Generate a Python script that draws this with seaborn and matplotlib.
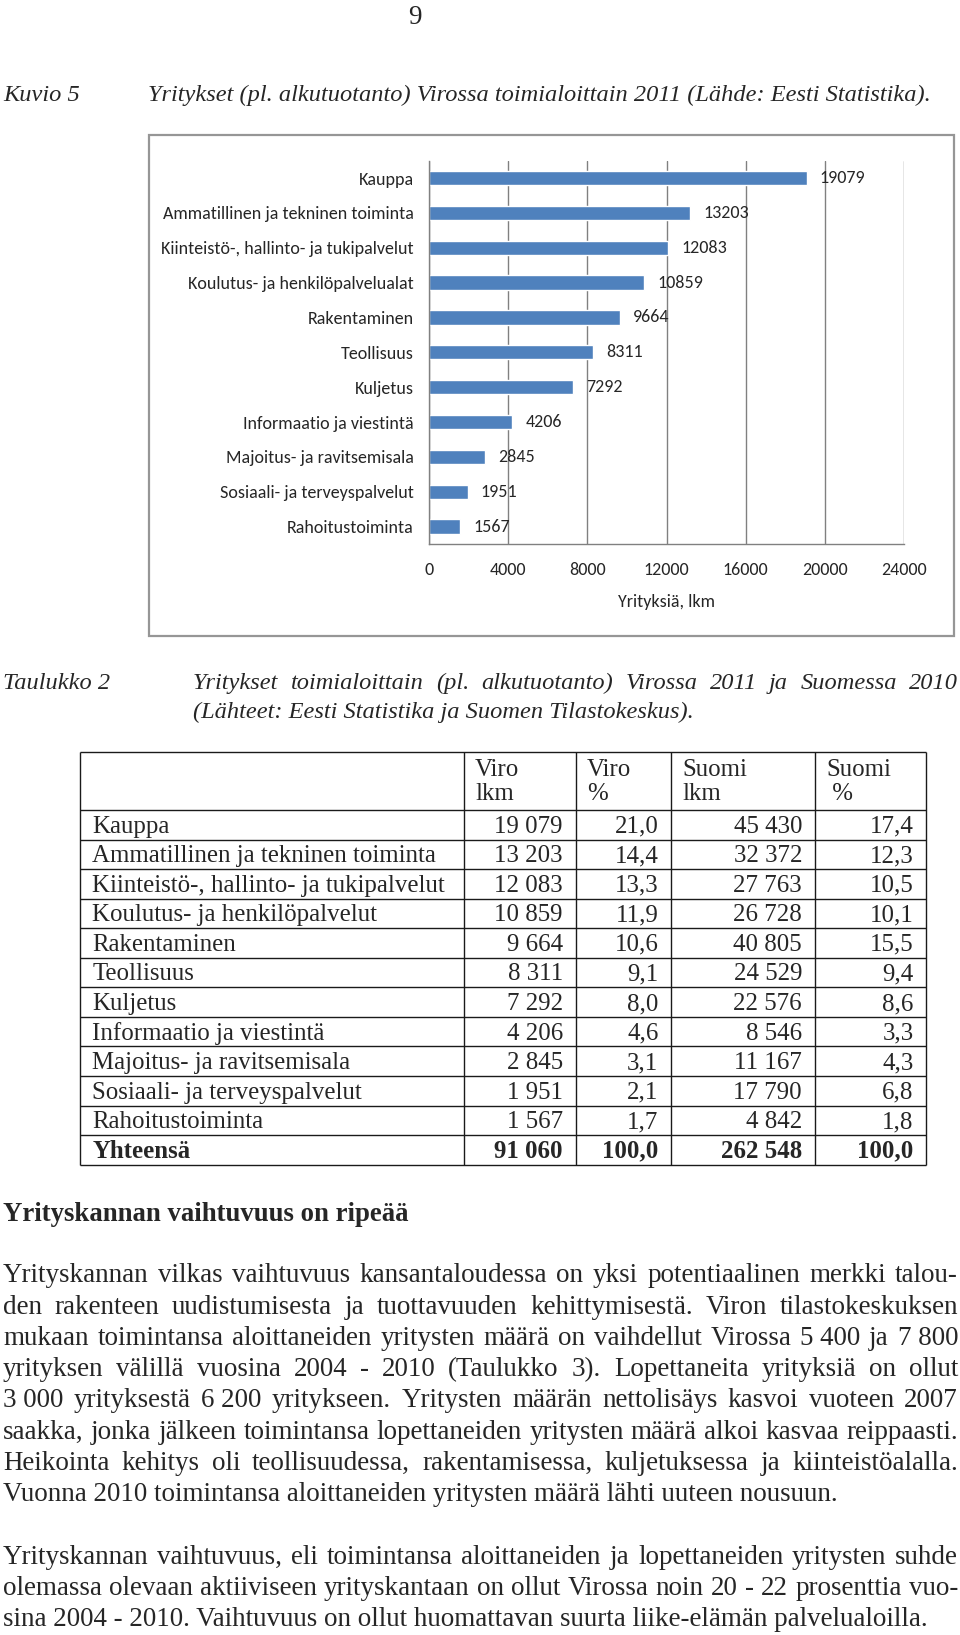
import numpy as np
import pandas as pd
import matplotlib
matplotlib.use("Agg")
import matplotlib.pyplot as plt
from matplotlib.patches import Rectangle
from matplotlib.ticker import FixedLocator
import seaborn as sns

# ---------------- data ----------------
categories = ["Kauppa", "Ammatillinen ja tekninen toiminta",
              "Kiinteistö-, hallinto- ja tukipalvelut",
              "Koulutus- ja henkilöpalvelualat", "Rakentaminen", "Teollisuus",
              "Kuljetus", "Informaatio ja viestintä", "Majoitus- ja ravitsemisala",
              "Sosiaali- ja terveyspalvelut", "Rahoitustoiminta"]
chart_values = [19079, 13203, 12083, 10859, 9664, 8311, 7292, 4206, 2845, 1951, 1567]
x_ticks = [0, 4000, 8000, 12000, 16000, 20000, 24000]

table_rows = ["Kauppa", "Ammatillinen ja tekninen toiminta",
              "Kiinteistö-, hallinto- ja tukipalvelut",
              "Koulutus- ja henkilöpalvelut", "Rakentaminen", "Teollisuus",
              "Kuljetus", "Informaatio ja viestintä", "Majoitus- ja ravitsemisala",
              "Sosiaali- ja terveyspalvelut", "Rahoitustoiminta"]
viro_lkm = [19079, 13203, 12083, 10859, 9664, 8311, 7292, 4206, 2845, 1951, 1567]
viro_pct = [21.0, 14.4, 13.3, 11.9, 10.6, 9.1, 8.0, 4.6, 3.1, 2.1, 1.7]
suomi_lkm = [45430, 32372, 27763, 26728, 40805, 24529, 22576, 8546, 11167, 17790, 4842]
suomi_pct = [17.4, 12.3, 10.5, 10.1, 15.5, 9.4, 8.6, 3.3, 4.3, 6.8, 1.8]
total_label = "Yhteensä"
total_row = [91060, 100.0, 262548, 100.0]
header_top = ["Viro", "Viro", "Suomi", "Suomi"]
header_bottom = ["lkm", "%", "lkm", " %"]

page_number = "9"
fig_caption = ("Kuvio 5", "Yritykset (pl. alkutuotanto) Virossa toimialoittain 2011 (Lähde: Eesti Statistika).")
tab_caption = ("Taulukko 2", ["Yritykset toimialoittain (pl. alkutuotanto) Virossa 2011 ja Suomessa 2010",
                              "(Lähteet: Eesti Statistika ja Suomen Tilastokeskus)."])
heading = "Yrityskannan vaihtuvuus on ripeää"
para1 = ["Yrityskannan vilkas vaihtuvuus kansantaloudessa on yksi potentiaalinen merkki talou-",
         "den rakenteen uudistumisesta ja tuottavuuden kehittymisestä. Viron tilastokeskuksen",
         "mukaan toimintansa aloittaneiden yritysten määrä on vaihdellut Virossa 5\u00a0400 ja 7\u00a0800",
         "yrityksen välillä vuosina 2004 - 2010 (Taulukko 3). Lopettaneita yrityksiä on ollut",
         "3\u00a0000 yrityksestä 6\u00a0200 yritykseen. Yritysten määrän nettolisäys kasvoi vuoteen 2007",
         "saakka, jonka jälkeen toimintansa lopettaneiden yritysten määrä alkoi kasvaa reippaasti.",
         "Heikointa kehitys oli teollisuudessa, rakentamisessa, kuljetuksessa ja kiinteistöalalla.",
         "Vuonna 2010 toimintansa aloittaneiden yritysten määrä lähti uuteen nousuun."]
para2 = ["Yrityskannan vaihtuvuus, eli toimintansa aloittaneiden ja lopettaneiden yritysten suhde",
         "olemassa olevaan aktiiviseen yrityskantaan on ollut Virossa noin 20 - 22 prosenttia vuo-",
         "sina 2004 - 2010. Vaihtuvuus on ollut huomattavan suurta liike-elämän palvelualoilla."]

# ---------------- figure ----------------
sns.set_style("white")
plt.rcParams["font.family"] = ["Liberation Serif", "DejaVu Serif"]
W, H = 960, 1635
fig = plt.figure(figsize=(W / 100, H / 100), dpi=100)
page = fig.add_axes([0, 0, 1, 1])
page.set_xlim(0, W)
page.set_ylim(H, 0)
page.axis("off")
renderer = fig.canvas.get_renderer()

SERIF = ["Liberation Serif", "DejaVu Serif"]
SANS = ["Carlito", "DejaVu Sans"]


def text_width(s, **kw):
    t = page.text(0, 0, s, **kw)
    w = t.get_window_extent(renderer).width
    t.remove()
    return w


def fit(s, target, **kw):
    return 20.0 * target / text_width(s, fontsize=20, **kw)


def put(x, yc, s, size, ha="left", **kw):
    base = yc + 0.32 * size * 100 / 72
    page.text(x, base, s, fontsize=size, ha=ha, va="baseline", **kw)


def put_justified(x0, x1, yc, s, size, **kw):
    words = s.split(" ")
    widths = [text_width(w, fontsize=size, **kw) for w in words]
    gap = (x1 - x0 - sum(widths)) / max(len(words) - 1, 1)
    x = x0
    for w, wd in zip(words, widths):
        put(x, yc, w, size, **kw)
        x += wd + gap


# sizes fitted to reference widths
body_size = fit(para1[5], 950, family=SERIF)
cap_size = fit(fig_caption[1], 783, family=SERIF, style="italic")
head_size = fit(heading, 405, family=SERIF, weight="bold")
tab_size = fit(table_rows[1], 344, family=SERIF)
chart_size = fit(categories[1], 250, family=SANS)

# page number and captions
put(415, 15, page_number, body_size, ha="center", family=SERIF)
put(3, 93, fig_caption[0], cap_size, family=SERIF, style="italic")
put(148, 93, fig_caption[1], cap_size, family=SERIF, style="italic")
put(3, 681, tab_caption[0], cap_size, family=SERIF, style="italic")
put_justified(193, 958, 681, tab_caption[1][0], cap_size, family=SERIF, style="italic")
put(193, 710, tab_caption[1][1], cap_size, family=SERIF, style="italic")

# ---------------- chart ----------------
page.add_patch(Rectangle((149, 135), 805, 501, facecolor="white", edgecolor="#969696", lw=1.6))
ax_l, ax_r, ax_t, ax_b = 429, 904, 160.6, 544
ax = fig.add_axes([ax_l / W, 1 - ax_b / H, (ax_r - ax_l) / W, (ax_b - ax_t) / H])
ax.patch.set_alpha(0)
df = pd.DataFrame({"toimiala": categories, "yrityksia": chart_values})
sns.barplot(data=df, x="yrityksia", y="toimiala", orient="h", color="#4F81BD",
            saturation=1, width=0.41, ax=ax)
ax.set_xlim(0, 24000)
ax.set_ylim(len(categories) - 0.5, -0.5)
ax.set_xticks(x_ticks)
ax.set_xticklabels([str(t) for t in x_ticks], fontsize=chart_size, family=SANS)
ax.set_yticks(range(len(categories)))
ax.set_yticklabels(categories, fontsize=chart_size, family=SANS)
ax.yaxis.set_minor_locator(FixedLocator(np.arange(-0.5, len(categories), 1.0)))
ax.tick_params(axis="y", which="major", length=0, pad=10.8)
ax.tick_params(axis="y", which="minor", length=4, width=1, color="#868686", direction="out")
ax.tick_params(axis="x", which="major", length=4.3, width=1, color="#868686", direction="out", pad=9)
ax.grid(True, axis="x", color="#808080", lw=1)
ax.grid(False, axis="y")
ax.set_axisbelow(True)
for s in ["top", "right"]:
    ax.spines[s].set_visible(False)
for s in ["left", "bottom"]:
    ax.spines[s].set_color("#808080")
    ax.spines[s].set_linewidth(1)
ax.set_ylabel("")
ax.set_xlabel("Yrityksiä, lkm", fontsize=chart_size, family=SANS, labelpad=11)
ax.bar_label(ax.containers[0], labels=[str(v) for v in chart_values], padding=9.4,
             fontsize=chart_size, family=SANS)

# ---------------- table ----------------
col_x = [80, 463.5, 575.5, 671, 814.5, 926]
row_h = 29.55
hdr_top, hdr_bot = 752, 810
n_rows = len(table_rows) + 1
row_lines = [hdr_top, hdr_bot] + [hdr_bot + row_h * (k + 1) for k in range(n_rows)]
lc = "#1a1a1a"
page.hlines(row_lines, col_x[0], col_x[-1], color=lc, lw=1.0)
page.vlines(col_x, hdr_top, row_lines[-1], color=lc, lw=1.0)

for j in range(4):
    put(col_x[j + 1] + 11.5, 768, header_top[j], tab_size, family=SERIF)
    put(col_x[j + 1] + 11.5, 792, header_bottom[j], tab_size, family=SERIF)


def fmt_int(v):
    return f"{v:,}".replace(",", "\u00a0")


def fmt_pct(v):
    return f"{v:.1f}".replace(".", ",")


rows = [(table_rows[i], [fmt_int(viro_lkm[i]), fmt_pct(viro_pct[i]),
                         fmt_int(suomi_lkm[i]), fmt_pct(suomi_pct[i])], "normal")
        for i in range(len(table_rows))]
rows.append((total_label, [fmt_int(total_row[0]), fmt_pct(total_row[1]),
                           fmt_int(total_row[2]), fmt_pct(total_row[3])], "bold"))
for i, (lab, vals, wt) in enumerate(rows):
    yc = hdr_bot + row_h * (i + 0.5)
    put(col_x[0] + 12.5, yc, lab, tab_size, family=SERIF, weight=wt)
    for j, v in enumerate(vals):
        put(col_x[j + 2] - 12.5, yc, v, tab_size, ha="right", family=SERIF, weight=wt)

# ---------------- body text ----------------
put(3, 1212, heading, head_size, family=SERIF, weight="bold")
line_sp = 31.28
for k, line in enumerate(para1):
    yc = 1273.7 + k * line_sp
    if k < len(para1) - 1:
        put_justified(3, 958, yc, line, body_size, family=SERIF)
    else:
        put(3, yc, line, body_size, family=SERIF)
for k, line in enumerate(para2):
    yc = 1555.1 + k * line_sp
    if k < len(para2) - 1:
        put_justified(3, 958, yc, line, body_size, family=SERIF)
    else:
        put(3, yc, line, body_size, family=SERIF)

fig.savefig("out.png", dpi=100)
